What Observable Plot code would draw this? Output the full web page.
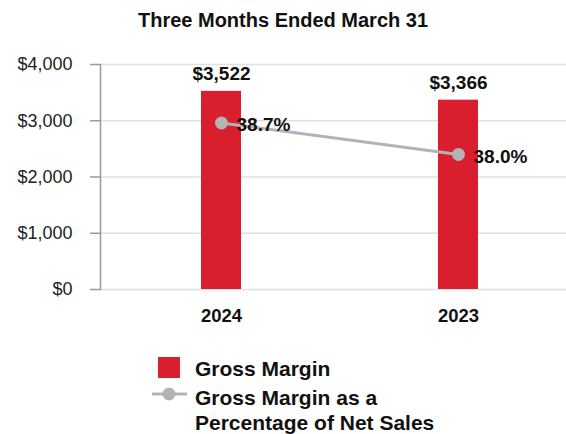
<!DOCTYPE html>
<html>
<head>
<meta charset="utf-8">
<script src="https://cdn.jsdelivr.net/npm/d3@7"></script>
<script src="https://cdn.jsdelivr.net/npm/@observablehq/plot@0.6"></script>
<style>
  body { margin: 0; background: #fff; font-family: "Liberation Sans", Arial, sans-serif; }
  #wrap { position: relative; width: 566px; height: 434px; overflow: hidden; }
  #title { position: absolute; left: 0; top: 9px; width: 566px; text-align: center; font-size: 20px; font-weight: bold; color: #111; }
  #chart { position: absolute; left: 0; top: 44px; }
  .leg { position: absolute; font-size: 21px; font-weight: bold; color: #111; line-height: 25px; white-space: nowrap; }
  .sw { position: absolute; }
</style>
</head>
<body>
<div id="wrap">
  <div id="title">Three Months Ended March 31</div>
  <div id="chart"></div>
  <div id="legend"></div>
</div>
<script>
const years = ["2024", "2023"];
const grossMargin = [3522, 3366];
const marginLabels = ["$3,522", "$3,366"];
const pctOfSales = [38.7, 38.0];
const pctLabels = ["38.7%", "38.0%"];
const yTicks = [0, 1000, 2000, 3000, 4000];
const pctAxisDomain = [35, 40]; // hidden secondary axis, aligned with $0–$4,000
const legendLabels = ["Gross Margin", "Gross Margin as a", "Percentage of Net Sales"];

const red = "#d91f2e";
const gray = "#b3b3b3";

const pctToY = d3.scaleLinear().domain(pctAxisDomain).range([yTicks[0], yTicks[yTicks.length - 1]]);

const data = years.map((y, i) => ({
  year: y, gm: grossMargin[i], gmLabel: marginLabels[i],
  pct: pctOfSales[i], pctY: pctToY(pctOfSales[i]), pctLabel: pctLabels[i]
}));

const chart = Plot.plot({
  width: 566,
  height: 285,
  marginLeft: 100,
  marginRight: 0,
  marginTop: 20,
  marginBottom: 40,
  style: { fontFamily: "Liberation Sans, Arial, sans-serif", background: "transparent", color: "#222" },
  x: { domain: years, type: "band", paddingInner: 0.832, paddingOuter: 0.395, align: 0.532, label: null },
  y: { domain: [0, 4000], label: null },
  marks: [
    Plot.gridY(yTicks, { stroke: "#e0e0e0", strokeOpacity: 1, strokeWidth: 1.5 }),
    Plot.frame({ anchor: "left", stroke: "#9a9a9a", strokeWidth: 1.5 }),
    Plot.axisY(yTicks, {
      tickFormat: d => "$" + d3.format(",")(d),
      tickSize: 10, tickPadding: 18, fontSize: 18, stroke: "#9a9a9a", strokeWidth: 1.5, fill: "#222", label: null
    }),
    Plot.axisX({ tickSize: 0, tickPadding: 19.5, fontSize: 18.5, fontWeight: "bold", fill: "#111", label: null }),
    Plot.barY(data, { x: "year", y: "gm", fill: red }),
    Plot.text(data, { x: "year", y: "gm", text: "gmLabel", dy: -17, fontSize: 19, fontWeight: "bold", fill: "#111" }),
    Plot.line(data, { x: "year", y: "pctY", stroke: gray, strokeWidth: 3 }),
    Plot.dot(data, { x: "year", y: "pctY", r: 6.5, fill: gray, stroke: "none" }),
    Plot.text(data, { x: "year", y: "pctY", text: "pctLabel", textAnchor: "start", dx: 15, dy: 2, fontSize: 19, fontWeight: "bold", fill: "#111" })
  ]
});
document.getElementById("chart").appendChild(chart);

const legend = document.getElementById("legend");
legend.innerHTML = `
  <svg class="sw" style="left:152px;top:355px" width="36" height="46">
    <rect x="6" y="2" width="22" height="21" fill="${red}"></rect>
    <line x1="0" y1="39" x2="35" y2="39" stroke="${gray}" stroke-width="3"></line>
    <circle cx="17" cy="39" r="6.5" fill="${gray}"></circle>
  </svg>
  <div class="leg" style="left:195px;top:356px">${legendLabels[0]}</div>
  <div class="leg" style="left:195px;top:385px">${legendLabels[1]}<br>${legendLabels[2]}</div>
`;
</script>
</body>
</html>
